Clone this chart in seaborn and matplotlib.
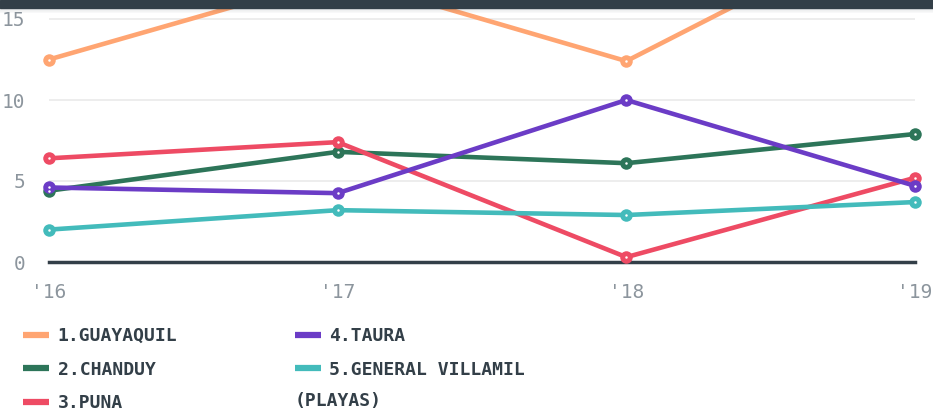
import matplotlib
matplotlib.use("Agg")
import matplotlib.pyplot as plt
import matplotlib.patches as mpatches
import numpy as np
import pandas as pd
import seaborn as sns

# datos
years = [2016, 2017, 2018, 2019]
year_labels = ["'16", "'17", "'18", "'19"]
guayaquil = [12.5, 17.6, 12.4, 21.5]
chanduy = [4.4, 6.8, 6.1, 7.9]
puna = [6.4, 7.4, 0.3, 5.2]
taura = [4.6, 4.25, 10.0, 4.7]
villamil = [2.0, 3.2, 2.9, 3.7]
cities = ["1.GUAYAQUIL", "2.CHANDUY", "3.PUNA", "4.TAURA", "5.GENERAL VILLAMIL"]
colors = ["#FFA572", "#2D7559", "#EE4B64", "#6B3CC6", "#43BBBB"]
y_ticks = [0, 5, 10, 15]

series = [guayaquil, chanduy, puna, taura, villamil]
df = pd.concat(
    [pd.DataFrame({"year": years, "value": vals, "city": name}) for name, vals in zip(cities, series)],
    ignore_index=True,
)

sns.set_theme(style="white")
plt.rcParams["font.family"] = ["DejaVu Sans Mono", "DejaVu Sans"]

W, H = 933, 417
fig = plt.figure(figsize=(W / 100, H / 100), dpi=100)
ax = fig.add_axes([49 / W, 1 - 262 / H, (915 - 49) / W, (262 - 8) / H])

sns.lineplot(data=df, x="year", y="value", hue="city", palette=colors,
             marker="o", markersize=9, markeredgewidth=0, linewidth=3.3,
             ax=ax, legend=True)
# puntito blanco en el centro de cada marcador
ax.plot(df["year"], df["value"], ls="none", marker=".", ms=1.6, color="white")
for ln in ax.get_lines():
    ln.set_clip_on(False)

ax.set_xlim(years[0], years[-1])
ax.set_ylim(0, (262 - 8) / 16.2)
ax.set_xticks(years)
ax.set_xticklabels(year_labels)
ax.set_yticks(y_ticks)
ax.set_xlabel("")
ax.set_ylabel("")
ax.tick_params(axis="both", length=0, labelsize=14, labelcolor="#8C959D")
ax.tick_params(axis="y", pad=17)
ax.tick_params(axis="x", pad=15)
for s in ["top", "right", "left"]:
    ax.spines[s].set_visible(False)
ax.spines["bottom"].set_color("#333F48")
ax.spines["bottom"].set_linewidth(2.5)
ax.spines["bottom"].set_zorder(1)
for v in y_ticks[1:]:
    ax.axhline(v, color="#EAEAEA", lw=1.2, zorder=0)

# leyenda
handles, labels = ax.get_legend_handles_labels()
ax.get_legend().remove()
for h in handles:
    h.set_marker("")
    h.set_linewidth(4.5)
    h.set_solid_capstyle("butt")
leg = fig.legend(handles, labels, ncol=2, loc="upper left",
                 bbox_to_anchor=(7 / W, 1 - 311 / H), frameon=False,
                 handlelength=1.45, handletextpad=0.45, labelspacing=0.86,
                 columnspacing=6.5,
                 prop={"family": "DejaVu Sans Mono", "weight": "bold", "size": 13})
for t in leg.get_texts():
    t.set_color("#333F48")
fig.text(295 / W, 1 - 401 / H, "(PLAYAS)", ha="left", va="center",
         fontsize=13, fontweight="bold", color="#333F48",
         family="DejaVu Sans Mono")

# barra oscura superior con sombra
fig.patches.append(mpatches.Rectangle((0, 1 - 8 / H), 1, 8 / H, transform=fig.transFigure,
                                      color="#333F48", zorder=10))
for i in range(5):
    fig.patches.append(mpatches.Rectangle((0, 1 - (9 + i) / H), 1, 1 / H, transform=fig.transFigure,
                                          color="#333F48", alpha=0.12 - 0.022 * i, lw=0, zorder=10))

fig.savefig("out.png", dpi=100)
